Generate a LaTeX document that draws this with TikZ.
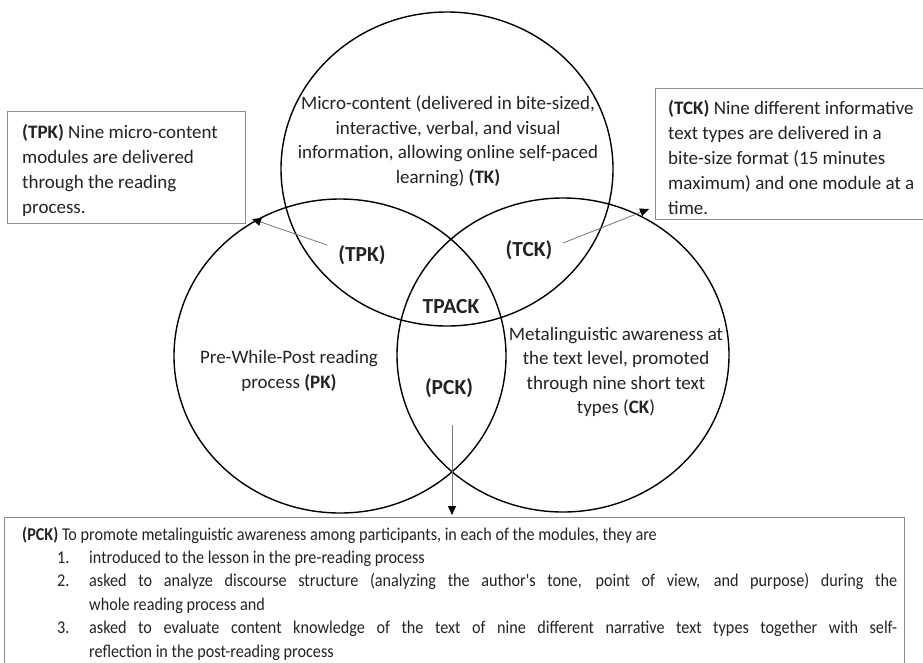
\documentclass[tikz,border=0pt]{standalone}
\usepackage{fontspec}
\setmainfont{Carlito}
\newfontfamily\condfont[FakeStretch=0.9]{Carlito}
\usetikzlibrary{shapes.geometric,arrows.meta}
\definecolor{boxgray}{RGB}{140,140,140}
\definecolor{txt}{RGB}{35,35,35}
\definecolor{ptrgray}{RGB}{120,120,120}
\tikzset{
  venn/.style={ellipse, draw=black, line width=1.4pt, minimum width=332pt, minimum height=314pt, inner sep=0pt},
  vlabel/.style={font=\fontsize{21.5}{26}\selectfont\bfseries, text=txt, inner sep=0pt},
  body/.style={font=\fontsize{19}{24.5}\selectfont, align=center, text=txt, inner sep=0pt},
  framebox/.style={draw=boxgray, line width=1.3pt, anchor=north west, inner sep=0pt},
  notetext/.style={align=left, anchor=north west, inner sep=0pt, font=\fontsize{19}{25}\selectfont, text=txt},
  pointer/.style={draw=ptrgray, line width=0.8pt, -{Triangle[length=9pt,width=8pt,color=black]}},
  pcktextstyle/.style={font=\condfont\fontsize{18}{23.4}\selectfont, align=left, text=txt, inner sep=0pt, anchor=north west}
}
\begin{document}
\begin{tikzpicture}[x=1pt,y=-1pt]
\useasboundingbox (0,0) rectangle (923,662);
\clip (0,0) rectangle (923,662);
\fill[white] (0,0) rectangle (923,662);
% circles
\node[venn] (T) at (447,169) {};
\node[venn] (P) at (340,356) {};
\node[venn] (C) at (563,355) {};
% circle texts
\node[body] (tk) at (448,141) {Micro-content (delivered in bite-sized,\\interactive, verbal, and visual\\information, allowing online self-paced\\learning) \textbf{(TK)}};
\node[body] (pk) at (289,371) {Pre-While-Post reading\\process \textbf{(PK)}};
\node[body] (ck) at (616,372) {Metalinguistic awareness at\\the text level, promoted\\through nine short text\\types (\textbf{CK})};
% intersection labels
\node[vlabel] (tpk) at (362,255) {(TPK)};
\node[vlabel] (tck) at (529,250) {(TCK)};
\node[vlabel] (tpack) at (451,307) {TPACK};
\node[vlabel] (pck) at (449,388) {(PCK)};
% note boxes
\node[framebox, minimum width=238pt, minimum height=112pt] (tpkbox) at (7,111) {};
\node[notetext] (tpktext) at (22,124.5) {\textbf{(TPK)} Nine micro-content\\modules are delivered\\through the reading\\process.};
\node[framebox, minimum width=290pt, minimum height=131pt] (tckbox) at (655,88) {};
\node[notetext] (tcktext) at (668,100.5) {\textbf{(TCK)} Nine different informative\\text types are delivered in a\\bite-size format (15 minutes\\maximum) and one module at a\\time.};
% pointers
\coordinate (tpkfrom) at (327,245);
\coordinate (tpkto) at (252,219);
\coordinate (tckfrom) at (563,243);
\coordinate (tckto) at (649,209);
\coordinate (pckfrom) at (452,425);
\coordinate (pckto) at (452,515);
\draw[pointer] (tpkfrom) -- (tpkto);
\draw[pointer] (tckfrom) -- (tckto);
\draw[pointer] (pckfrom) -- (pckto);
% bottom box
\node[framebox, minimum width=900pt, minimum height=180pt] (pckbox) at (4,517) {};
\node[pcktextstyle] (pcktext) at (22,526.5) {\textbf{(PCK)} To promote metalinguistic awareness among participants, in each of the modules, they are\\
\hspace*{35pt}\makebox[32pt][l]{1.}introduced to the lesson in the pre-reading process\\
\hspace*{35pt}\makebox[32pt][l]{2.}\makebox[808pt][s]{asked to analyze discourse structure (analyzing the author's tone, point of view, and purpose) during the}\\
\hspace*{67pt}whole reading process and\\
\hspace*{35pt}\makebox[32pt][l]{3.}\makebox[808pt][s]{asked to evaluate content knowledge of the text of nine different narrative text types together with self-}\\
\hspace*{67pt}reflection in the post-reading process};
\end{tikzpicture}
\end{document}
